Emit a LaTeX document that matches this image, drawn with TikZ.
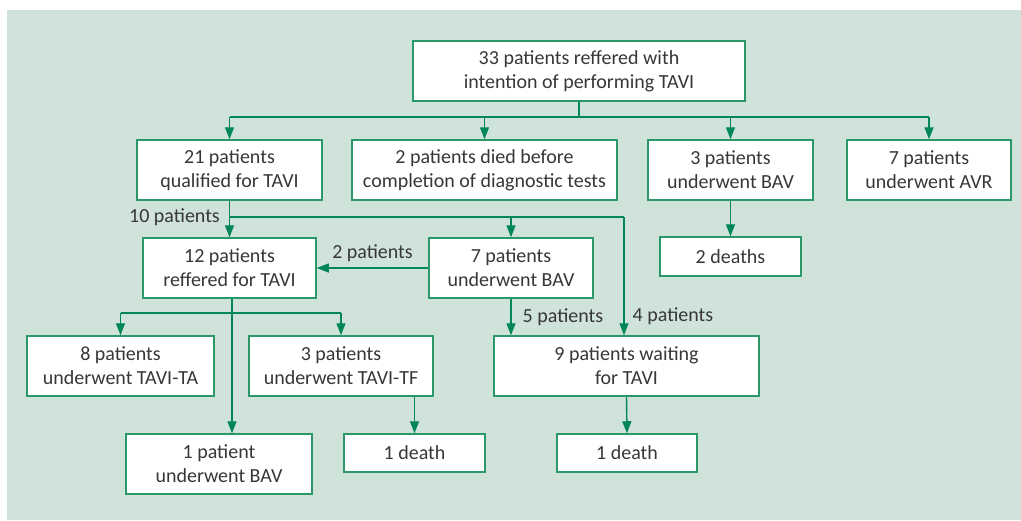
\documentclass[tikz,border=0pt]{standalone}
\usepackage{fontspec}
\setmainfont{Carlito}
\usetikzlibrary{arrows.meta}
\definecolor{bggreen}{RGB}{207,227,218}
\definecolor{boxgreen}{RGB}{42,152,104}
\definecolor{arrgreen}{RGB}{0,134,88}
\definecolor{txtgray}{RGB}{55,55,55}
\tikzset{
  box/.style={draw=boxgreen, line width=1.5pt, fill=white, align=center, inner sep=0pt, text=txtgray, font=\fontsize{20}{24}\selectfont},
  conn/.style={draw=arrgreen, line width=1.4pt},
  arr/.style={conn, -{Triangle[length=12pt,width=9pt]}},
  lbl/.style={text=txtgray, inner sep=0pt, font=\fontsize{20}{24}\selectfont}
}
\begin{document}
\begin{tikzpicture}[x=1pt,y=-1pt]
\useasboundingbox (0,0) rectangle (1021,520);
\fill[bggreen] (7,10) rectangle (1021,520);
%方框
\node[box, minimum width=332, minimum height=60] (top) at (579,71) {33 patients reffered with\\intention of performing TAVI};
\node[box, minimum width=185, minimum height=60] (q21) at (229.5,170) {21 patients\\qualified for TAVI};
\node[box, minimum width=265, minimum height=60] (died) at (484.5,170) {2 patients died before\\completion of diagnostic tests};
\node[box, minimum width=165, minimum height=60] (bav3) at (730.5,170) {3 patients\\underwent BAV};
\node[box, minimum width=164, minimum height=60] (avr) at (929,170) {7 patients\\underwent AVR};
\node[box, minimum width=141, minimum height=39] (d2) at (730.5,256.5) {2 deaths};
\node[box, minimum width=173, minimum height=60] (ref12) at (229.5,268) {12 patients\\reffered for TAVI};
\node[box, minimum width=164, minimum height=60] (bav7) at (511,268) {7 patients\\underwent BAV};
\node[box, minimum width=187, minimum height=60] (ta8) at (120.5,366) {8 patients\\underwent TAVI-TA};
\node[box, minimum width=184, minimum height=60] (tf3) at (341,366) {3 patients\\underwent TAVI-TF};
\node[box, minimum width=265, minimum height=60] (wait9) at (626.5,366) {9 patients waiting\\for TAVI};
\node[box, minimum width=186, minimum height=60] (bav1) at (219,464) {1 patient\\underwent BAV};
\node[box, minimum width=141, minimum height=38] (d1a) at (414.5,453) {1 death};
\node[box, minimum width=140, minimum height=38] (d1b) at (627,453) {1 death};
\coordinate (bus1) at (0,117);
\coordinate (k4) at (624,217);
\coordinate (bus2) at (0,313);
%连线
\draw[conn] (top.south) -- (top.south |- bus1);
\draw[conn] (q21.north |- bus1) -- (avr.north |- bus1);
\foreach \n in {q21,died,bav3,avr} \draw[arr] (\n.north |- bus1) -- (\n.north);
\draw[arr] (q21.south) -- (ref12.north);
\draw[conn] (q21.south |- k4) -- (k4);
\draw[arr] (bav7.north |- k4) -- (bav7.north);
\draw[arr] (k4) -- (k4 |- wait9.north) node[lbl, pos=0.835, anchor=west, xshift=8pt] (l4) {4 patients};
\draw[arr] (bav7.west) -- (ref12.east) node[lbl, midway, anchor=south, yshift=6pt] (l2) {2 patients};
\draw[arr] (bav3.south) -- (d2.north);
\draw[arr] ([xshift=2.5pt]ref12.south) -- ([xshift=2.5pt]ref12.south |- bav1.north);
\draw[conn] (ta8.north |- bus2) -- (tf3.north |- bus2);
\draw[arr] (ta8.north |- bus2) -- (ta8.north);
\draw[arr] (tf3.north |- bus2) -- (tf3.north);
\draw[arr] (bav7.south) -- (bav7.south |- wait9.north) node[lbl, midway, anchor=west, xshift=11pt] (l5) {5 patients};
\draw[arr] (d1a.north |- tf3.south) -- (d1a.north);
\draw[arr] (wait9.south) -- (d1b.north);
\node[lbl, anchor=east] (l10) at (220,217) {10 patients};
\end{tikzpicture}
\end{document}
